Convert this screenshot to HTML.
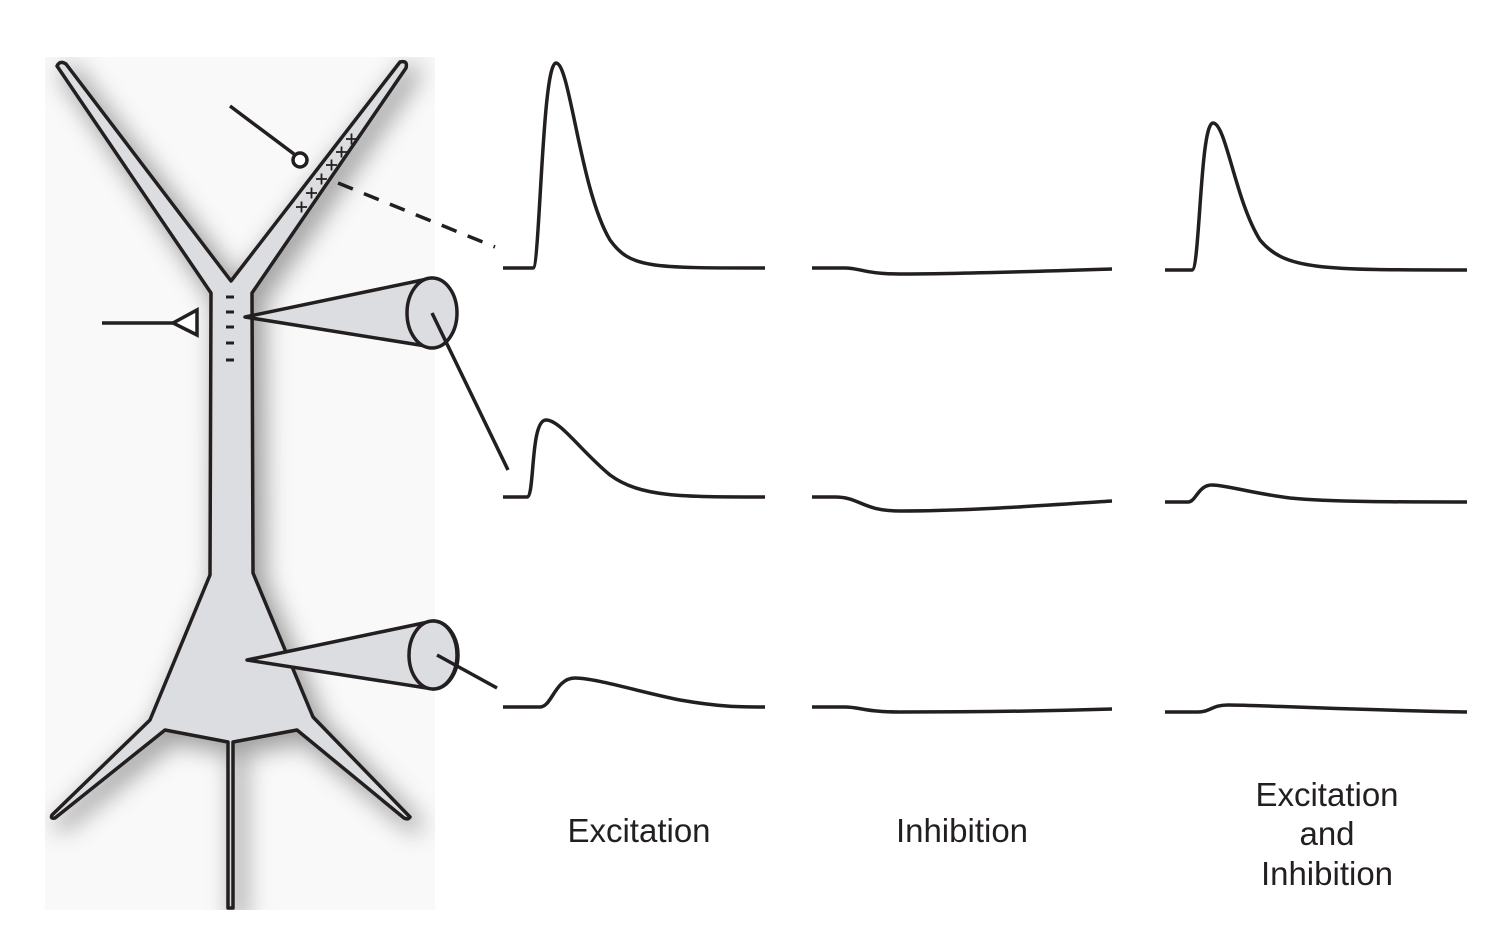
<!DOCTYPE html>
<html><head><meta charset="utf-8"><style>
html,body{margin:0;padding:0;background:#fff;}
svg{display:block}
text{font-family:"Liberation Sans",sans-serif;font-size:33px;fill:#231f20}
</style></head><body>
<svg width="1506" height="933" viewBox="0 0 1506 933" xmlns="http://www.w3.org/2000/svg">
<defs>
<filter id="sh" x="-20%" y="-20%" width="140%" height="140%"><feGaussianBlur stdDeviation="12"/></filter>
<clipPath id="panel"><rect x="45" y="57" width="390" height="853"/></clipPath>
</defs>
<rect x="45" y="57" width="390" height="853" fill="#f9f9f9"/>
<g clip-path="url(#panel)">
<path d="M210 575 L211 293 L57 66 Q60 60 66 64 L231 281 L400 62 Q408 60 406 68 L252 293 L253 573 L313 717 L410 817 Q408 820 404 818 L297 730 L233 742 L233 910 L228 910 L228 742 L165 730 L55 818 Q50 819 52 815 L150 720 Z" transform="translate(8,8)" fill="#555" stroke="#555" stroke-width="10" opacity="0.55" filter="url(#sh)"/>
</g>
<path d="M210 575 L211 293 L57 66 Q60 60 66 64 L231 281 L400 62 Q408 60 406 68 L252 293 L253 573 L313 717 L410 817 Q408 820 404 818 L297 730 L233 742 L233 908 L228 908 L228 742 L165 730 L55 818 Q50 819 52 815 L150 720 Z" fill="#dcdde0" stroke="#231f20" stroke-width="3.5" stroke-linejoin="round"/>
<g stroke="#231f20" stroke-width="3">
<line x1="226" y1="297" x2="234" y2="297"/><line x1="226" y1="312" x2="234" y2="312"/><line x1="226" y1="327" x2="234" y2="327"/><line x1="226" y1="343" x2="234" y2="343"/><line x1="226" y1="360" x2="234" y2="360"/>
</g>
<g stroke="#231f20" stroke-width="1.8">
<path d="M296 207h11M301.5 201.5v11"/><path d="M306 193h11M311.5 187.5v11"/><path d="M316 179h11M321.5 173.5v11"/><path d="M326 165h11M331.5 159.5v11"/><path d="M336 152h11M341.5 146.5v11"/><path d="M346 139h11M351.5 133.5v11"/>
</g>
<line x1="230" y1="106" x2="294" y2="154" stroke="#231f20" stroke-width="3.5"/>
<circle cx="300" cy="160" r="7" fill="#fff" stroke="#231f20" stroke-width="3.5"/>
<line x1="338" y1="183" x2="495" y2="247" stroke="#231f20" stroke-width="3.5" stroke-dasharray="16,12"/>
<line x1="102" y1="323" x2="173" y2="323" stroke="#231f20" stroke-width="3.5"/>
<polygon points="173,323 197,310 197,335" fill="#fff" stroke="#231f20" stroke-width="3.5"/>
<path d="M245 317 L432 278 A26 35 0 0 1 432 347 Z" fill="#dcdde0" stroke="#231f20" stroke-width="3.5" stroke-linejoin="round"/>
<ellipse cx="432" cy="313" rx="25" ry="35" fill="#dcdde0" stroke="#231f20" stroke-width="3.5"/>
<line x1="432" y1="313" x2="508" y2="470" stroke="#231f20" stroke-width="3.5"/>
<path d="M247 660 L433 621 A25 34 0 0 1 433 689 Z" fill="#dcdde0" stroke="#231f20" stroke-width="3.5" stroke-linejoin="round"/>
<ellipse cx="433" cy="655" rx="24" ry="34" fill="#dcdde0" stroke="#231f20" stroke-width="3.5"/>
<line x1="437" y1="655" x2="497" y2="688" stroke="#231f20" stroke-width="3.5"/>
<g fill="none" stroke="#231f20" stroke-width="3.5">
<path d="M503 268 L533 268 C540 268 542 63 556 63 C570 63 580 190 610 240 C630 268 650 268 765 268"/>
<path d="M812 268 L845 268 C860 268 865 274 900 274 C960 274 1050 271 1112 269"/>
<path d="M1165 270 L1192 270 C1200 270 1200 123 1213 123 C1226 123 1235 200 1260 240 C1285 270 1320 270 1467 270"/>
<path d="M503 497 L527 497 C535 497 530 420 546 420 C560 420 580 450 610 475 C640 497 680 497 765 497"/>
<path d="M812 497 L835 497 C860 497 862 511 900 511 C970 511 1050 505 1112 501"/>
<path d="M1165 502 L1188 502 C1196 502 1198 485 1212 485 C1226 485 1250 493 1290 498 C1330 502 1400 502 1467 502"/>
<path d="M503 707 L540 707 C552 707 555 678 575 678 C595 678 640 692 680 700 C720 707 740 707 765 707"/>
<path d="M812 707 L845 707 C860 707 865 712 900 712 C970 712 1050 711 1112 709"/>
<path d="M1165 712 L1198 712 C1210 712 1212 705 1228 705 C1260 705 1350 710 1467 712"/>
</g>
<text x="639" y="842" text-anchor="middle">Excitation</text>
<text x="962" y="842" text-anchor="middle">Inhibition</text>
<text x="1327" y="806" text-anchor="middle">Excitation</text>
<text x="1327" y="845" text-anchor="middle">and</text>
<text x="1327" y="885" text-anchor="middle">Inhibition</text>
</svg>
</body></html>
